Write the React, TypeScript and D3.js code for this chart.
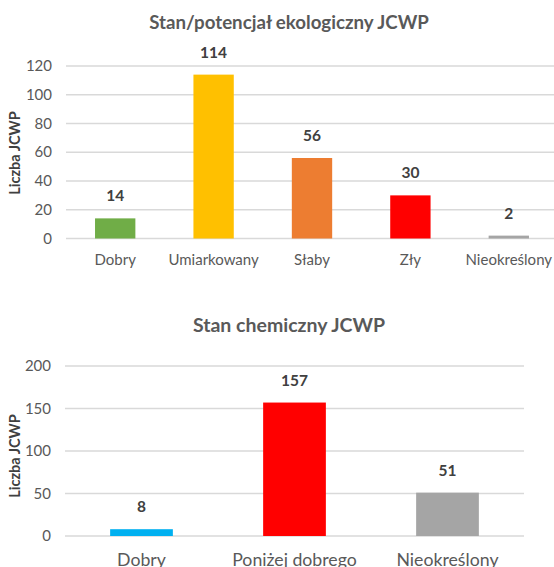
import React, { useRef, useEffect } from 'react';
import { select, scaleBand, scaleLinear } from 'd3';

// chart 1 - stan/potencjał ekologiczny
const ecoCategories = ['Dobry', 'Umiarkowany', 'Słaby', 'Zły', 'Nieokreślony'];
const ecoValues = [14, 114, 56, 30, 2];
const ecoColors = ['#70AD47', '#FFC000', '#ED7D31', '#FF0000', '#A5A5A5'];
const ecoTicks = [0, 20, 40, 60, 80, 100, 120];

// chart 2 - stan chemiczny
const chemCategories = ['Dobry', 'Poniżej dobrego', 'Nieokreślony'];
const chemValues = [8, 157, 51];
const chemColors = ['#00B0F0', '#FF0000', '#A5A5A5'];
const chemTicks = [0, 50, 100, 150, 200];

const FONT = 'Lato, "Open Sans", sans-serif';

interface PanelOpts {
  title: string;
  titleY: number;
  titleSize: number;
  categories: string[];
  values: number[];
  colors: string[];
  ticks: number[];
  left: number;
  right: number;
  top: number;
  bottom: number;
  padding: number;
  catY: number;
  catSize: number;
  yLabelCy: number;
}

const App: React.FC = () => {
  const svgRef = useRef<SVGSVGElement>(null);

  useEffect(() => {
    if (!svgRef.current) return;
    const svg = select(svgRef.current);
    svg.selectAll('*').remove();

    const drawPanel = (o: PanelOpts) => {
      const g = svg.append('g');
      const x = scaleBand<string>().domain(o.categories).range([o.left, o.right]).paddingInner(o.padding).paddingOuter(o.padding / 2);
      const maxTick = o.ticks[o.ticks.length - 1];
      const y = scaleLinear().domain([0, maxTick]).range([o.bottom, o.top]);

      g.append('text')
        .attr('x', 289).attr('y', o.titleY)
        .attr('text-anchor', 'middle')
        .style('font', `bold ${o.titleSize}px ${FONT}`)
        .attr('fill', '#595959')
        .text(o.title);

      // gridlines
      g.selectAll('line.grid').data(o.ticks).join('line')
        .attr('x1', o.left).attr('x2', Math.min(o.right, 554))
        .attr('y1', d => y(d)).attr('y2', d => y(d))
        .attr('stroke', '#D9D9D9').attr('stroke-width', 1.5);

      g.selectAll('text.tick').data(o.ticks).join('text')
        .attr('x', o.left - 14).attr('y', d => y(d) + 5)
        .attr('text-anchor', 'end')
        .style('font', `15px ${FONT}`)
        .attr('fill', '#595959')
        .text(d => d);

      g.selectAll('rect.bar').data(o.values).join('rect')
        .attr('x', (d, i) => x(o.categories[i])!)
        .attr('width', x.bandwidth())
        .attr('y', d => y(d))
        .attr('height', d => o.bottom - y(d))
        .attr('fill', (d, i) => o.colors[i]);

      g.selectAll('text.val').data(o.values).join('text')
        .attr('x', (d, i) => x(o.categories[i])! + x.bandwidth() / 2)
        .attr('y', d => y(d) - 17)
        .attr('text-anchor', 'middle')
        .style('font', `bold 15.5px ${FONT}`)
        .attr('fill', '#404040')
        .text(d => d);

      g.selectAll('text.cat').data(o.categories).join('text')
        .attr('x', d => x(d)! + x.bandwidth() / 2)
        .attr('y', o.catY)
        .attr('text-anchor', 'middle')
        .style('font', `${o.catSize}px ${FONT}`)
        .attr('fill', '#595959')
        .text(d => d);

      g.append('text')
        .attr('transform', `translate(20,${o.yLabelCy}) rotate(-90)`)
        .attr('text-anchor', 'middle')
        .style('font', `bold 14.5px ${FONT}`)
        .attr('fill', '#404040')
        .text('Liczba JCWP');
    };

    drawPanel({
      title: 'Stan/potencjał ekologiczny JCWP', titleY: 29, titleSize: 18.7,
      categories: ecoCategories, values: ecoValues, colors: ecoColors, ticks: ecoTicks,
      left: 66, right: 558, top: 66, bottom: 238.5, padding: 0.59,
      catY: 265, catSize: 15, yLabelCy: 153,
    });

    drawPanel({
      title: 'Stan chemiczny JCWP', titleY: 332, titleSize: 19.5,
      categories: chemCategories, values: chemValues, colors: chemColors, ticks: chemTicks,
      left: 65, right: 524, top: 366, bottom: 536, padding: 0.59,
      catY: 566, catSize: 17.7, yLabelCy: 456,
    });
  }, []);

  return (
    <svg
      ref={svgRef}
      width={554}
      height={567}
      style={{ position: 'absolute', left: 0, top: 0, background: '#fff' }}
    />
  );
};

export default App;
